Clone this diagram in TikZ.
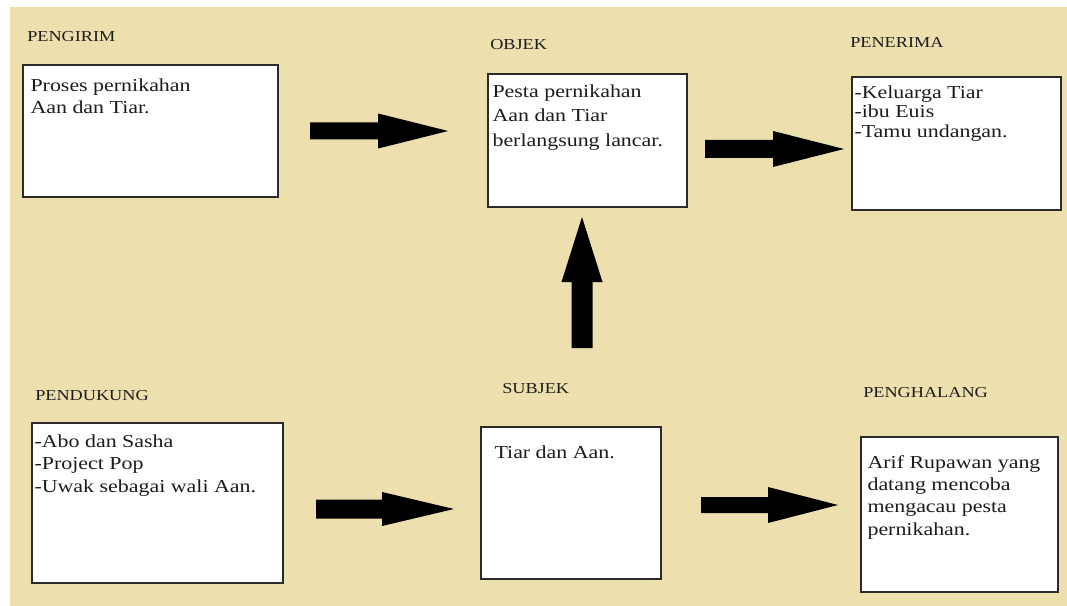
\documentclass[tikz,border=0pt]{standalone}
\usepackage{fontspec}
\setmainfont{Liberation Serif}[FakeStretch=1.2]
\usetikzlibrary{calc}

\definecolor{paper}{HTML}{EDE0AE}
\definecolor{frame}{HTML}{2B2B2B}
\definecolor{ink}{HTML}{1C1C1C}

\tikzset{
  panel/.style={draw=frame, line width=1.1pt, fill=white, inner sep=0pt},
  heading/.style={anchor=base west, inner sep=0pt, text=ink,
    font=\fontsize{11.4}{13}\selectfont},
  bodytext/.style={anchor=base west, inner sep=0pt, text=ink,
    font=\fontsize{13.7}{#1}\selectfont},
  bodytext/.default=16.5pt,
  blockfill/.style={fill=black}
}

% text block whose anchor sits on the baseline of its first line
\newcommand\lines[1]{\parbox[t]{7cm}{\raggedright #1}}

% thick block arrow pointing right: tail, tip, shaft half width, head half width, head length
\newcommand\blockright[5]{%
  \fill[blockfill] ($(#1)+(0,-#3)$) -- ($(#2)+(-#5,-#3)$) -- ($(#2)+(-#5,-#4)$)
    -- (#2) -- ($(#2)+(-#5,#4)$) -- ($(#2)+(-#5,#3)$) -- ($(#1)+(0,#3)$) -- cycle;}
% thick block arrow pointing up
\newcommand\blockup[5]{%
  \fill[blockfill] ($(#1)+(-#3,0)$) -- ($(#2)+(-#3,#5)$) -- ($(#2)+(-#4,#5)$)
    -- (#2) -- ($(#2)+(#4,#5)$) -- ($(#2)+(#3,#5)$) -- ($(#1)+(#3,0)$) -- cycle;}

\begin{document}
\begin{tikzpicture}[x=0.75pt, y=-0.75pt]
  \useasboundingbox (0,0) rectangle (1067,606);
  \fill[white] (0,0) rectangle (1067,606);
  \fill[paper] (10,7) rectangle (1067,606);

  % headings
  \node[heading] (hPengirim)   at (27,42)  {PENGIRIM};
  \node[heading] (hObjek)      at (490,50) {OBJEK};
  \node[heading] (hPenerima)   at (850,48) {PENERIMA};
  \node[heading] (hPendukung)  at (35,400) {PENDUKUNG};
  \node[heading] (hSubjek)     at (502,393) {SUBJEK};
  \node[heading] (hPenghalang) at (863,397) {PENGHALANG};

  % panels
  \node[panel, minimum width=191.25pt, minimum height=99pt]    (pengirim)   at (150.5,131)  {};
  \node[panel, minimum width=149.25pt, minimum height=99.75pt] (objek)      at (587.5,140.5) {};
  \node[panel, minimum width=156.75pt, minimum height=99.75pt] (penerima)   at (956.5,143.5) {};
  \node[panel, minimum width=188.25pt, minimum height=120pt]   (pendukung)  at (157.5,503)  {};
  \node[panel, minimum width=135pt,    minimum height=114pt]   (subjek)     at (571,503)    {};
  \node[panel, minimum width=147.75pt, minimum height=116.25pt] (penghalang) at (959.5,514.5) {};

  % panel texts
  \node[bodytext=16.5pt] (tPengirim) at ($(pengirim.north west)+(8,27)$)
    {\lines{Proses pernikahan\\Aan dan Tiar.}};
  \node[bodytext=18.4pt] (tObjek) at ($(objek.north west)+(5,24)$)
    {\lines{Pesta pernikahan\\Aan dan Tiar\\berlangsung lancar.}};
  \node[bodytext=14.8pt] (tPenerima) at ($(penerima.north west)+(3,22)$)
    {\lines{-Keluarga Tiar\\-ibu Euis\\-Tamu undangan.}};
  \node[bodytext=16.9pt] (tPendukung) at ($(pendukung.north west)+(3,25)$)
    {\lines{-Abo dan Sasha\\-Project Pop\\-Uwak sebagai wali Aan.}};
  \node[bodytext] (tSubjek) at ($(subjek.north west)+(14,32)$)
    {\lines{Tiar dan Aan.}};
  \node[bodytext=16.7pt] (tPenghalang) at ($(penghalang.north west)+(7,32)$)
    {\lines{Arif Rupawan yang\\datang mencoba\\mengacau pesta\\pernikahan.}};

  % arrow ends
  \coordinate (a1t) at (310,131);  \coordinate (a1h) at (448,131);
  \coordinate (a2t) at (705,149);  \coordinate (a2h) at (844,149);
  \coordinate (a3t) at (582,348);  \coordinate (a3h) at (582,217);
  \coordinate (a4t) at (316,509);  \coordinate (a4h) at (454,509);
  \coordinate (a5t) at (701,505);  \coordinate (a5h) at (838,505);

  \blockright{a1t}{a1h}{8.5}{17.5}{70}
  \blockright{a2t}{a2h}{9}{18}{71}
  \blockup{a3t}{a3h}{10.5}{20.5}{65}
  \blockright{a4t}{a4h}{9.5}{17}{72}
  \blockright{a5t}{a5h}{8}{18}{70}
\end{tikzpicture}
\end{document}
